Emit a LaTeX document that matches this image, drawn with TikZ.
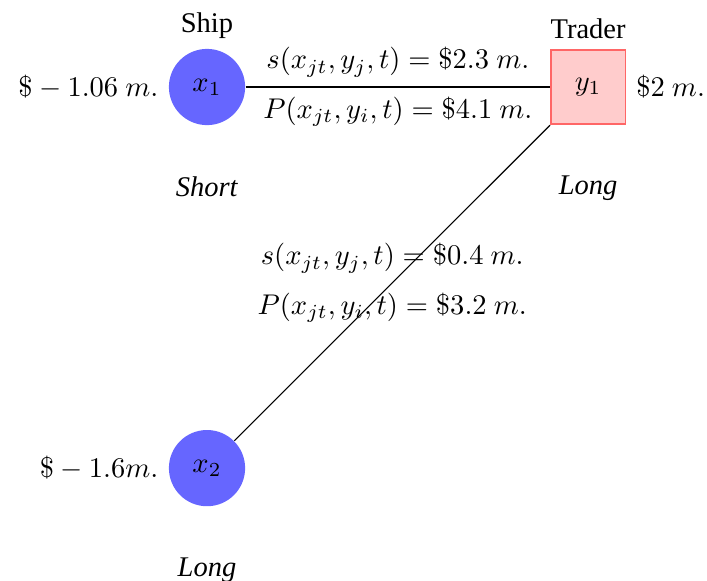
\documentclass[tikz,border=0pt]{standalone}
\usepackage[no-math]{fontspec}
\setmainfont{Liberation Serif}
\usetikzlibrary{positioning}
\tikzset{
  ship/.style={circle, fill=blue!60, minimum size=0.94cm, inner sep=0pt},
  trader/.style={rectangle, draw=red!60, fill=red!20, line width=0.6pt, minimum size=0.92cm, inner sep=0pt},
  side/.style={label distance=0.5cm},
  link/.style={draw=black, line width=0.4pt},
}
\begin{document}
\begin{tikzpicture}
  \useasboundingbox (-2.553,1.073) rectangle (6.166,-6.092);
  \node[ship, label=above:Ship, label=left:{$\$-1.06\ m.$}, label={[side]below:\textit{Short}}] (x1) at (0,0) {$x_1$};
  \node[trader, label=above:Trader, label=right:{$\$2\ m.$}, label={[side]below:\textit{Long}}] (y1) at (4.7,0) {$y_1$};
  \node[ship, label=left:{$\$-1.6m.$}, label={[side]below:\textit{Long}}] (x2) at (0,-4.7) {$x_2$};
  \draw[link] (x1) -- node[above] {$s(x_{jt},y_j,t)=\$2.3\ m.$} node[below] {$P(x_{jt},y_i,t)=\$4.1\ m.$} (y1);
  \draw[link] (y1) -- node[above] {$s(x_{jt},y_j,t)=\$0.4\ m.$} node[below] {$P(x_{jt},y_i,t)=\$3.2\ m.$} (x2);
\end{tikzpicture}
\end{document}
